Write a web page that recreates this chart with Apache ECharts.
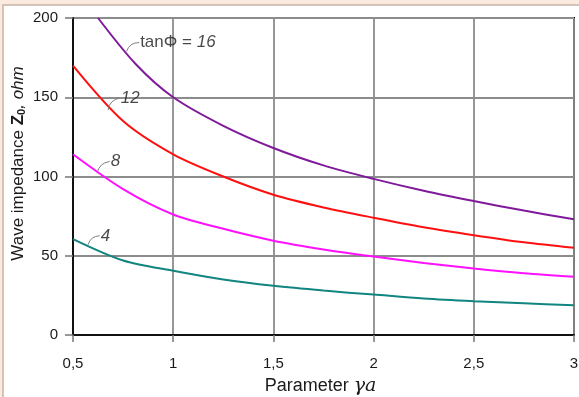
<!DOCTYPE html>
<html>
<head>
<meta charset="utf-8">
<script src="https://cdn.jsdelivr.net/npm/echarts@6/dist/echarts.min.js"></script>
<style>
  html, body { margin: 0; padding: 0; background: #fbeadf; }
  #chart { width: 579px; height: 397px; }
</style>
</head>
<body>
<div id="chart"></div>
<script>
// parameter gamma*a
const xValues = [0.5, 0.75, 1, 1.25, 1.5, 1.75, 2, 2.25, 2.5, 2.75, 3];
// the tanPhi = 16 curve enters the plot at the top edge
const x16 = [0.625, 0.8125, 1, 1.25, 1.5, 1.75, 2, 2.25, 2.5, 2.75, 3];
// wave impedance Z0, ohm, for tanPhi = 16, 12, 8, 4
const z16 = [200, 171, 150, 132, 118, 107, 98.5, 91, 84.5, 78.5, 73];
const z12 = [170, 135, 114, 100, 88.5, 80.5, 74, 68, 63, 58.5, 55];
const z8 = [114, 92, 76, 67, 59.5, 54, 49.5, 45.5, 42, 39, 36.7];
const z4 = [60.5, 47, 40.5, 35, 31, 28, 25.5, 23, 21.3, 20, 18.8];
const seriesNames = ["16", "12", "8", "4"];
const seriesColors = ["#7f1a9a", "#ff1010", "#ff10ff", "#11857f"];

// curve labels: [leader start (on curve), leader end / text anchor]
const labelLeaders = [
  [[0.767, 179], [0.83, 184.5]],
  [[0.675, 142], [0.733, 149.5]],
  [[0.62, 102], [0.683, 109.5]],
  [[0.575, 57], [0.633, 62.6]]
];
const labelTexts = ["{n|tanΦ = }{i|16}", "{i|12}", "{i|8}", "{i|4}"];

const xTicks = { min: 0.5, max: 3, interval: 0.5 };
const yTicks = { min: 0, max: 200, interval: 50 };

const allZ = [z16, z12, z8, z4];
const allX = [x16, xValues, xValues, xValues];
const chart = echarts.init(document.getElementById("chart"));

const curveSeries = allZ.map((vals, i) => ({
  name: seriesNames[i],
  type: "line",
  smooth: 0.3,
  showSymbol: false,
  symbol: "none",
  clip: true,
  lineStyle: { color: seriesColors[i], width: 2 },
  data: allX[i].map((x, k) => [x, vals[k]]),
  z: 3
}));

const leaderSeries = {
  type: "lines",
  coordinateSystem: "cartesian2d",
  silent: true,
  lineStyle: { color: "#808080", width: 1, curveness: 0.35, opacity: 1 },
  data: labelLeaders.map(l => ({ coords: [l[0], l[1]] })),
  z: 4
};

const labelSeries = {
  type: "scatter",
  symbolSize: 0,
  silent: true,
  data: labelLeaders.map((l, i) => ({
    value: l[1],
    label: {
      show: true,
      position: "right",
      distance: 1,
      formatter: labelTexts[i],
      rich: {
        n: { fontFamily: "Liberation Sans", fontSize: 17, color: "#1a1a1a" },
        i: { fontFamily: "Liberation Sans", fontSize: 17, fontStyle: "italic", color: "#1a1a1a" }
      }
    }
  })),
  z: 5
};

chart.setOption({
  animation: false,
  backgroundColor: "#fbeadf",
  graphic: [
    {
      type: "rect",
      shape: { x: 3, y: 5, width: 580, height: 400 },
      style: { fill: "#ffffff", stroke: "#c9b3a6", lineWidth: 1.5 },
      z: -10
    }
  ],
  grid: {
    left: 73, top: 18, right: 5, bottom: 62,
    outerBoundsMode: "none",
    show: true, borderColor: "#111", borderWidth: 2
  },
  xAxis: {
    type: "value",
    min: xTicks.min,
    max: xTicks.max,
    interval: xTicks.interval,
    name: "{n|Parameter }{g|γa}",
    nameLocation: "middle",
    nameGap: 42,
    nameMoveOverlap: false,
    nameTextStyle: {
      padding: [0, 6, 0, 0],
      rich: {
        n: { fontFamily: "Liberation Sans", fontSize: 18, color: "#1a1a1a" },
        g: { fontFamily: "DejaVu Serif", fontSize: 19, fontStyle: "italic", color: "#1a1a1a" }
      }
    },
    axisLine: { lineStyle: { color: "#111", width: 2 } },
    axisTick: { show: true, inside: false, length: 7, lineStyle: { color: "#777", width: 1.5 } },
    axisLabel: {
      fontFamily: "Liberation Sans",
      fontSize: 15,
      color: "#1a1a1a",
      margin: 21,
      formatter: v => String(v).replace(".", ",")
    },
    splitLine: { show: true, lineStyle: { color: "#8c8c8c", width: 1.8 } }
  },
  yAxis: {
    type: "value",
    min: yTicks.min,
    max: yTicks.max,
    interval: yTicks.interval,
    name: "{n|Wave impedance }{z|Z}{s|0}{o|, ohm}",
    nameLocation: "middle",
    nameRotate: 90,
    nameGap: 46,
    nameMoveOverlap: false,
    nameTextStyle: {
      padding: [0, 0, 0, 26],
      rich: {
        n: { fontFamily: "Liberation Sans", fontSize: 17, color: "#1a1a1a" },
        z: { fontFamily: "Liberation Sans", fontSize: 17, fontWeight: "bold", color: "#1a1a1a" },
        s: { fontFamily: "Liberation Sans", fontSize: 11, fontWeight: "bold", color: "#1a1a1a", verticalAlign: "bottom", padding: [7, 0, 0, 0] },
        o: { fontFamily: "Liberation Sans", fontSize: 17, fontStyle: "italic", color: "#1a1a1a" }
      }
    },
    axisLine: { lineStyle: { color: "#111", width: 2 } },
    axisTick: { show: true, inside: false, length: 8, lineStyle: { color: "#777", width: 1.5 } },
    axisLabel: { fontFamily: "Liberation Sans", fontSize: 15, color: "#1a1a1a", margin: 15 },
    splitLine: { show: true, lineStyle: { color: "#8c8c8c", width: 1.8 } }
  },
  series: curveSeries.concat([leaderSeries, labelSeries])
});
</script>
</body>
</html>
